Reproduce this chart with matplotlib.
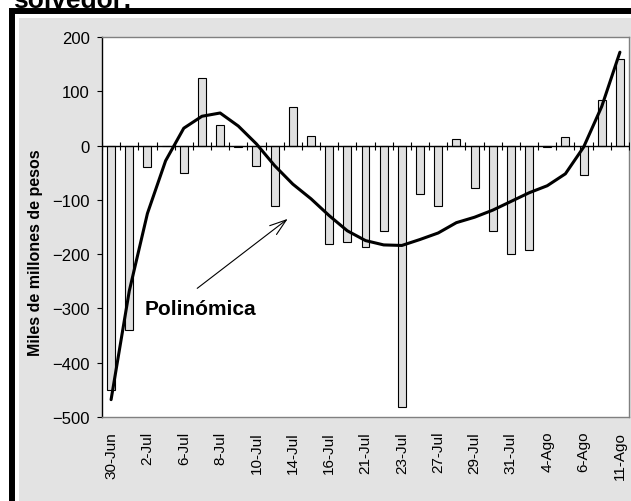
import matplotlib
matplotlib.use("Agg")
import matplotlib.pyplot as plt
from matplotlib.patches import Rectangle
import numpy as np

plt.rcParams['font.family'] = ['Liberation Sans', 'DejaVu Sans']

# daily values (miles de millones de pesos), one per business day
flows = [-450, -340, -40, 0, -50, 125, 37, -3, -37, -112,
         71, 18, -181, -178, -187, -157, -482, -90, -112, 12,
         -79, -157, -200, -192, -3, 15, -54, 84, 160]
# polynomial trendline as drawn in the chart
trend = [-468, -268, -125, -28, 32, 54, 60, 36, 3, -37,
         -71, -98, -129, -157, -175, -183, -184, -173, -161, -142,
         -132, -119, -103, -87, -74, -52, -3, 72, 172]
tick_labels = ['30-Jun', '2-Jul', '6-Jul', '8-Jul', '10-Jul', '14-Jul', '16-Jul',
               '21-Jul', '23-Jul', '27-Jul', '29-Jul', '31-Jul', '4-Ago',
               '6-Ago', '11-Ago']

W, H = 631, 502
fig = plt.figure(figsize=(W / 100, H / 100), dpi=100)

# chart frame: black border + grey chart area (cut off at right/bottom)
fig.add_artist(Rectangle((12 / W, -0.2), 1.2, (H - 12) / H + 0.2, transform=fig.transFigure,
                         facecolor='none', edgecolor='black', lw=4.3, zorder=0))
fig.add_artist(Rectangle((19 / W, -0.2), 1.2, (H - 19) / H + 0.2, transform=fig.transFigure,
                         facecolor='#e3e3e3', edgecolor='none', zorder=0))

# title is cropped at the top edge in the original
fig.text(13 / W, 1 - 7.5 / H, 'solvedor:', fontsize=19, fontweight='bold', va='baseline')

ax = fig.add_axes([102 / W, 84 / H, 527 / W, 380 / H])
ax.set_facecolor('white')

x = np.arange(len(flows))
ax.bar(x, flows, width=0.44, color='#e0e0e0', edgecolor='black', linewidth=0.8, zorder=2)
ax.axhline(0, color='black', lw=1, zorder=3)
ax.plot(np.arange(len(flows) + 1) - 0.5, np.zeros(len(flows) + 1), ls='', marker='|',
        ms=6, mew=0.8, color='black', zorder=3)
ax.plot(x, trend, color='black', lw=2.2, solid_joinstyle='round', solid_capstyle='round', zorder=4)

ax.set_xlim(-0.5, len(flows) - 0.5)
ax.set_ylim(-500, 200)
ax.set_yticks(range(-500, 201, 100))
ax.set_xticks(x[::2])
ax.set_xticklabels(tick_labels, rotation=90)
ax.tick_params(axis='x', length=0, pad=10, labelsize=11)
ax.tick_params(axis='y', direction='out', length=3.6, width=0.8, pad=5.3, labelsize=12)

for side in ['top', 'right', 'bottom']:
    ax.spines[side].set_color('#808080')
    ax.spines[side].set_linewidth(1)
ax.spines['left'].set_color('black')
ax.spines['left'].set_linewidth(1)

fig.text(36 / W, 1 - 253 / H, 'Miles de millones de pesos', rotation=90, ha='center', va='center',
         fontsize=11.5, fontweight='bold')

ax.annotate('', xy=(9.72, -135), xytext=(4.74, -263),
            arrowprops=dict(arrowstyle='->,head_length=0.6,head_width=0.2', mutation_scale=20,
                            lw=0.8, color='black', shrinkA=0, shrinkB=0), zorder=5)
ax.text(4.89, -301, 'Polinómica', ha='center', va='center', fontsize=15, fontweight='bold', zorder=5)

fig.savefig('out.png', dpi=100)
